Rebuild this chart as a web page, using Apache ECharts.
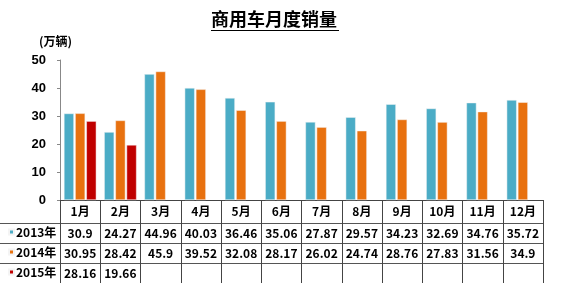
<!DOCTYPE html>
<html><head><meta charset="utf-8">
<script src="https://cdn.jsdelivr.net/npm/echarts@6/dist/echarts.min.js"></script>
<style>html,body{margin:0;padding:0;background:#fff}#c{width:570px;height:290px}</style>
</head><body><div id="c"></div>
<script>
var months = ['1月','2月','3月','4月','5月','6月','7月','8月','9月','10月','11月','12月'];
var seriesNames = ['2013年','2014年','2015年'];
var sales2013 = [30.9, 24.27, 44.96, 40.03, 36.46, 35.06, 27.87, 29.57, 34.23, 32.69, 34.76, 35.72];
var sales2014 = [30.95, 28.42, 45.9, 39.52, 32.08, 28.17, 26.02, 24.74, 28.76, 27.83, 31.56, 34.9];
var sales2015 = [28.16, 19.66];
var colors = ['#4bacc6', '#e8710f', '#c00000'];

var CJK = '"Noto Sans CJK SC", sans-serif';
var LAT = '"Liberation Sans", Arial, sans-serif';
var GL = 60, GR = 543, GT = 60, GB = 200, ROW0 = 23, ROWH = 20;

function rowLabels(arr) {
  return months.map(function (m, i) { return i < arr.length ? String(arr[i]) : ''; });
}
function tableAxis(arr, k) {
  return {
    type: 'category', gridIndex: 0, position: 'bottom',
    offset: ROW0 + k * ROWH, data: rowLabels(arr),
    axisLine: { show: true, lineStyle: { color: '#555', width: 1 } },
    axisTick: { show: false },
    axisLabel: { interval: 0, margin: 4, fontFamily: CJK, fontWeight: 'bold', fontSize: 12, color: '#000', hideOverlap: false }
  };
}

var chart = echarts.init(document.getElementById('c'), null, { renderer: 'canvas' });
var allRows = [sales2013, sales2014, sales2015];
var legends = seriesNames.map(function (n, k) {
  return {
    orient: 'vertical', left: 8, top: GB + ROW0 + k * ROWH + 3, padding: 0,
    itemWidth: 5, itemHeight: 5, icon: 'rect', data: [n],
    textStyle: { fontFamily: CJK, fontWeight: 'bold', fontSize: 12, color: '#000', padding: [0, 0, 0, -3] }
  };
});
chart.setOption({
  animation: false,
  color: colors,
  title: {
    text: '商用车月度销量', left: 211, top: 10, padding: 0,
    textStyle: { fontFamily: CJK, fontWeight: 'bold', fontSize: 18, color: '#000' }
  },
  legend: legends,
  grid: { left: GL, right: 570 - GR, top: GT, bottom: 290 - GB, containLabel: false, outerBoundsMode: 'none' },
  xAxis: [
    {
      type: 'category', data: months, position: 'bottom',
      axisLine: { show: true, lineStyle: { color: '#444', width: 1 } },
      axisTick: { show: true, interval: 0, length: ROW0 + 3 * ROWH, lineStyle: { color: '#444' } },
      axisLabel: { interval: 0, margin: 5, fontFamily: CJK, fontWeight: 'bold', fontSize: 12, color: '#000' }
    },
    tableAxis(sales2013, 0),
    tableAxis(sales2014, 1),
    tableAxis(sales2015, 2)
  ],
  yAxis: {
    type: 'value', min: 0, max: 50, interval: 10,
    name: '(万辆)', nameLocation: 'end', nameGap: 13,
    nameTextStyle: { fontFamily: CJK, fontWeight: 'bold', fontSize: 12, color: '#000', align: 'center', padding: [0, 9, 0, 0] },
    axisLine: { show: true, lineStyle: { color: '#888' } },
    axisTick: { show: true, length: 3, lineStyle: { color: '#888' } },
    splitLine: { show: false },
    axisLabel: { margin: 14, fontFamily: LAT, fontWeight: 'bold', fontSize: 13, color: '#000' }
  },
  series: allRows.map(function (arr, k) {
    return {
      name: seriesNames[k], type: 'bar', xAxisIndex: 0, data: arr,
      barWidth: 10, barGap: '12%',
      itemStyle: { color: colors[k], borderColor: '#f4f4f4', borderWidth: 0.5 }
    };
  }),
  graphic: [
    { type: 'line', shape: { x1: 211, y1: 30.5, x2: 339, y2: 30.5 }, style: { stroke: '#000', lineWidth: 1.2 } },
    { type: 'line', shape: { x1: 0, y1: GB + ROW0 + 0.5, x2: GL, y2: GB + ROW0 + 0.5 }, style: { stroke: '#555', lineWidth: 1 } },
    { type: 'line', shape: { x1: 0, y1: GB + ROW0 + ROWH + 0.5, x2: GL, y2: GB + ROW0 + ROWH + 0.5 }, style: { stroke: '#555', lineWidth: 1 } },
    { type: 'line', shape: { x1: 0, y1: GB + ROW0 + 2 * ROWH + 0.5, x2: GL, y2: GB + ROW0 + 2 * ROWH + 0.5 }, style: { stroke: '#555', lineWidth: 1 } }
  ]
});
</script></body></html>
